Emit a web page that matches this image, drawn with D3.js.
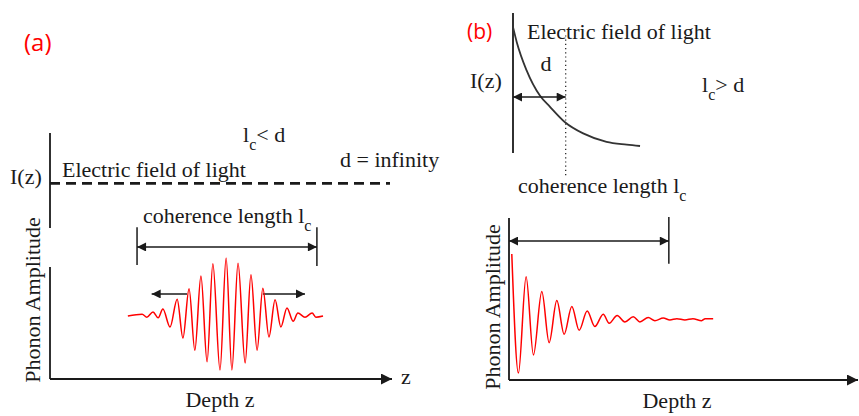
<!DOCTYPE html>
<html>
<head>
<meta charset="utf-8">
<script src="https://cdnjs.cloudflare.com/ajax/libs/d3/7.8.5/d3.min.js"></script>
<style>
  body { margin: 0; background: #fff; }
  text { font-family: "Liberation Serif", "Times New Roman", serif; font-size: 22px; fill: #1a1a1a; }
</style>
</head>
<body>
<svg width="859" height="416"></svg>
<script>
// ---- data ----
// panel (a): wave packet, [depth, amplitude]
var waveA = [
  [2.29, 0], [2.71, 0.03], [2.85, -0.02], [3.03, 0.07], [3.18, -0.03],
  [3.32, 0.12], [3.53, -0.19], [3.74, 0.29], [3.91, -0.38], [4.09, 0.47],
  [4.26, -0.59], [4.44, 0.69], [4.62, -0.79], [4.79, 0.90], [5.00, -0.93],
  [5.18, 1.00], [5.35, -0.93], [5.53, 0.91], [5.74, -0.81], [5.91, 0.71],
  [6.09, -0.59], [6.26, 0.48], [6.44, -0.36], [6.62, 0.28], [6.79, -0.19],
  [6.97, 0.14], [7.15, -0.09], [7.29, 0.05], [7.50, -0.02], [7.71, 0.05],
  [7.82, -0.02], [8.03, 0]
]
var fieldA = 0.47          // constant light intensity (d = infinity)
var coherenceA = [2.56, 7.85]
var spreadA = [[4.03, 2.99], [6.26, 7.50]]

// panel (b): damped phonon, [depth, amplitude]
var waveB = [
  [0.08, 1.00], [0.27, -0.84], [0.49, 0.65], [0.70, -0.56], [0.94, 0.42],
  [1.15, -0.37], [1.37, 0.28], [1.58, -0.24], [1.80, 0.19], [2.01, -0.18],
  [2.24, 0.12], [2.46, -0.12], [2.70, 0.07], [2.87, -0.07], [3.10, 0.05],
  [3.32, -0.05], [3.56, 0.03], [3.75, -0.05], [3.99, 0.02], [4.18, -0.03],
  [4.42, 0.01], [4.61, -0.02], [4.81, 0], [5.04, -0.02], [5.27, 0],
  [5.52, -0.03], [5.62, 0], [5.85, 0]
]
// panel (b): electric field of light, [depth, intensity]
var fieldB = [
  [0, 0.90], [0.11, 0.79], [0.39, 0.59], [0.77, 0.41], [1.06, 0.33],
  [1.49, 0.22], [2.01, 0.14], [2.68, 0.08], [3.26, 0.06], [3.64, 0.05]
]
var depthD = 1.51
var coherenceB = 4.58

var TXT_FIELD = "Electric field of light"
var TXT_COH = "coherence length l"
var TXT_AMP = "Phonon Amplitude"
var TXT_DEPTH = "Depth z"

main()

function main() {
  var svg = d3.select("svg")
  var RED = "#ff0000"
  var INK = "#1a1a1a"

  var defs = svg.append("defs")
  defs.append("marker")
      .attr("id", "head")
      .attr("viewBox", "0 0 10 10")
      .attr("refX", 10)
      .attr("refY", 5)
      .attr("markerUnits", "userSpaceOnUse")
      .attr("markerWidth", 11)
      .attr("markerHeight", 9)
      .attr("orient", "auto-start-reverse")
    .append("path")
      .attr("d", "M0,0 L10,5 L0,10 z")
      .attr("fill", INK)
  defs.append("marker")
      .attr("id", "bighead")
      .attr("viewBox", "0 0 10 10")
      .attr("refX", 10)
      .attr("refY", 5)
      .attr("markerUnits", "userSpaceOnUse")
      .attr("markerWidth", 14)
      .attr("markerHeight", 11)
      .attr("orient", "auto")
    .append("path")
      .attr("d", "M0,0 L10,5 L0,10 z")
      .attr("fill", INK)

  function seg(g, x1, y1, x2, y2, w) {
    return g.append("line")
        .attr("x1", x1).attr("y1", y1)
        .attr("x2", x2).attr("y2", y2)
        .attr("stroke", INK)
        .attr("stroke-width", w || 1.8)
  }

  function label(g, x, y, txt, sub) {
    var t = g.append("text").attr("x", x).attr("y", y).text(txt)
    if (sub) {
      t.append("tspan").attr("dy", 8).attr("font-size", 16).text("c")
      t.append("tspan").attr("dy", -8).text(sub)
    }
    return t
  }

  // ---------------- panel (a) ----------------
  var a = svg.append("g")
  var xA = d3.scaleLinear().domain([0, 10]).range([50, 390])
  var ampA = d3.scaleLinear().domain([-1, 1]).range([374, 258])
  var fA = d3.scaleLinear().domain([0, 1]).range([228, 133])

  a.append("text")
      .attr("x", 24).attr("y", 51)
      .style("font-family", "'Open Sans', sans-serif")
      .style("font-size", "24px")
      .style("fill", RED)
      .text("(a)")

  seg(a, xA(0), fA(0), xA(0), fA(1))
  a.append("line")
      .attr("x1", xA(0)).attr("x2", xA(10))
      .attr("y1", fA(fieldA)).attr("y2", fA(fieldA))
      .attr("stroke", INK)
      .attr("stroke-width", 2.6)
      .attr("stroke-dasharray", "10,6")
  label(a, 10, 184, "I(z)")
  label(a, 62, 177, TXT_FIELD)
  label(a, 243, 142, "l", "< d")
  label(a, 340, 167, "d = infinity")

  // lower axes
  seg(a, xA(0), 267, xA(0), 379)
  seg(a, xA(0), 379, 392, 379).attr("marker-end", "url(#bighead)")
  label(a, 401, 384, "z")
  a.append("text")
      .attr("transform", "translate(40,300) rotate(-90)")
      .attr("text-anchor", "middle")
      .text(TXT_AMP)
  label(a, 220, 407, TXT_DEPTH).attr("text-anchor", "middle")

  // coherence length bracket
  label(a, 143, 223, TXT_COH, " ")
  seg(a, xA(coherenceA[0]), ampA(1.53), xA(coherenceA[0]), ampA(0.88), 1.5)
  seg(a, xA(coherenceA[1]), ampA(1.53), xA(coherenceA[1]), ampA(0.86), 1.5)
  seg(a, xA(coherenceA[0]), ampA(1.19), xA(coherenceA[1]), ampA(1.19), 1.5)
      .attr("marker-start", "url(#head)")
      .attr("marker-end", "url(#head)")
  spreadA.forEach(function(s) {
    seg(a, xA(s[0]), ampA(0.38), xA(s[1]), ampA(0.38), 1.5)
        .attr("marker-end", "url(#head)")
  })

  var lineA = d3.line()
      .x(function(d) { return xA(d[0]) })
      .y(function(d) { return ampA(d[1]) })
      .curve(d3.curveMonotoneX)
  a.append("path")
      .datum(waveA)
      .attr("d", lineA)
      .attr("fill", "none")
      .attr("stroke", RED)
      .attr("stroke-width", 1.5)

  // ---------------- panel (b) ----------------
  var b = svg.append("g")
  var xBt = d3.scaleLinear().domain([0, 10]).range([513, 862])
  var fB = d3.scaleLinear().domain([0, 1]).range([153, 13])
  var xB = d3.scaleLinear().domain([0, 10]).range([509, 858])
  var ampB = d3.scaleLinear().domain([-1, 1]).range([383.4, 254])

  b.append("text")
      .attr("x", 467).attr("y", 39)
      .style("font-family", "'Open Sans', sans-serif")
      .style("font-size", "21px")
      .style("fill", RED)
      .text("(b)")

  seg(b, xBt(0), fB(0), xBt(0), fB(1))
  b.append("line")
      .attr("x1", xBt(depthD)).attr("x2", xBt(depthD))
      .attr("y1", fB(0.84)).attr("y2", fB(-0.16))
      .attr("stroke", INK)
      .attr("stroke-width", 1.2)
      .attr("stroke-dasharray", "1.2,3")
  b.append("path")
      .datum(fieldB)
      .attr("d", d3.line()
          .x(function(d) { return xBt(d[0]) })
          .y(function(d) { return fB(d[1]) })
          .curve(d3.curveMonotoneX))
      .attr("fill", "none")
      .attr("stroke", "#333")
      .attr("stroke-width", 1.8)
  seg(b, xBt(0), fB(0.40), xBt(depthD), fB(0.40), 1.5)
      .attr("marker-start", "url(#head)")
      .attr("marker-end", "url(#head)")
  label(b, 527, 39, TXT_FIELD)
  label(b, 546, 71, "d").attr("text-anchor", "middle")
  label(b, 470, 88, "I(z)")
  label(b, 702, 92, "l", "> d")
  label(b, 518, 193, TXT_COH, " ")

  // lower axes
  seg(b, xB(0), 218, xB(0), 380)
  seg(b, xB(0), 380, 858, 380).attr("marker-end", "url(#bighead)")
  b.append("text")
      .attr("transform", "translate(500,307) rotate(-90)")
      .attr("text-anchor", "middle")
      .text(TXT_AMP)
  label(b, 677, 408, TXT_DEPTH).attr("text-anchor", "middle")

  seg(b, xB(coherenceB), ampB(1.57), xB(coherenceB), ampB(0.85), 1.5)
  seg(b, xB(0), ampB(1.2), xB(coherenceB), ampB(1.2), 1.5)
      .attr("marker-start", "url(#head)")
      .attr("marker-end", "url(#head)")

  b.append("path")
      .datum(waveB)
      .attr("d", d3.line()
          .x(function(d) { return xB(d[0]) })
          .y(function(d) { return ampB(d[1]) })
          .curve(d3.curveMonotoneX))
      .attr("fill", "none")
      .attr("stroke", RED)
      .attr("stroke-width", 1.5)
}
</script>
</body>
</html>
